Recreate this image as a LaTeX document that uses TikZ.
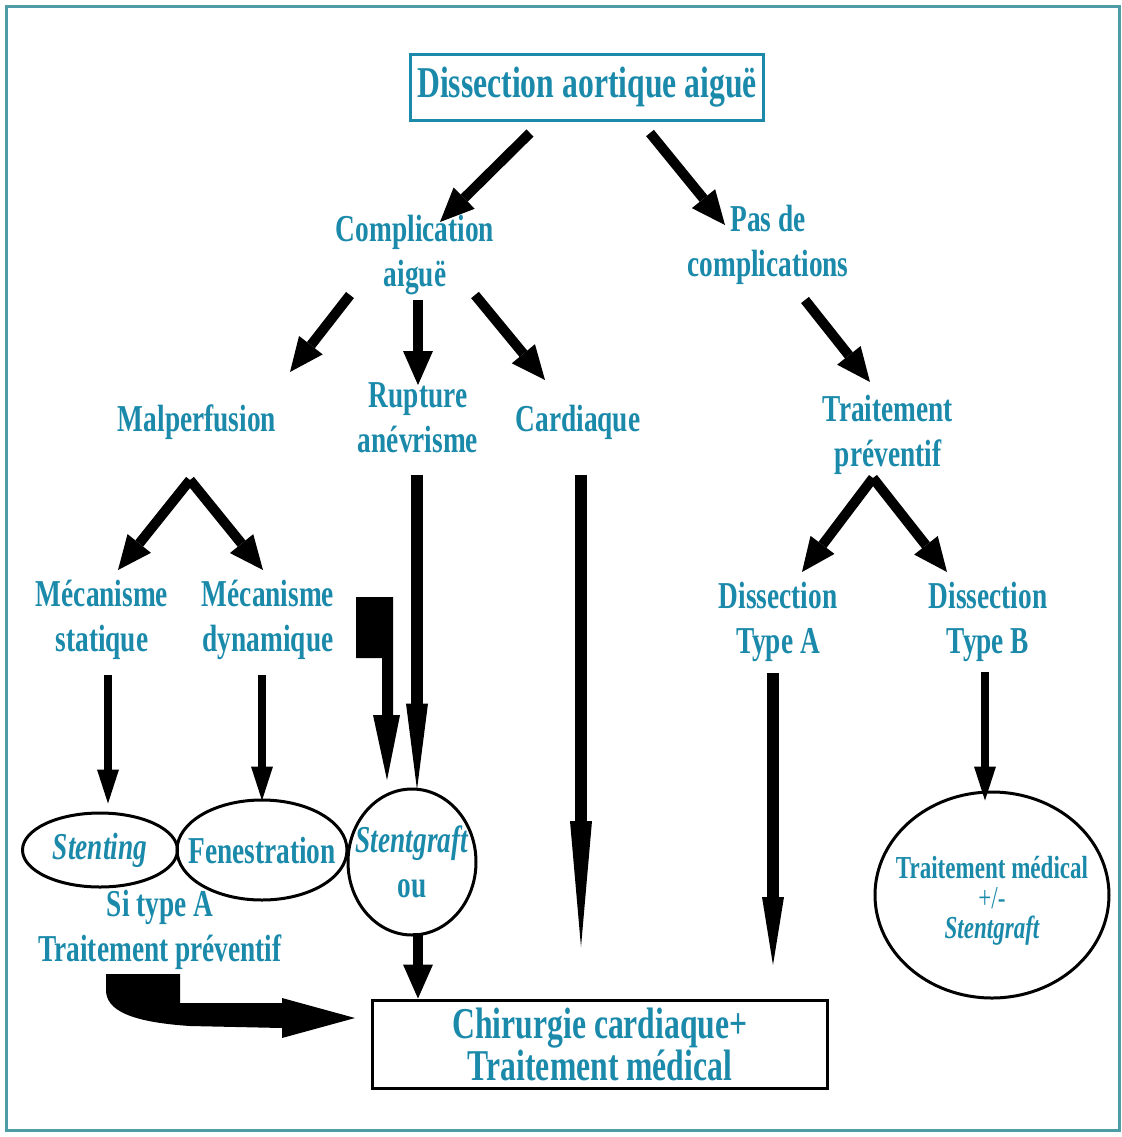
\documentclass[tikz,border=0pt]{standalone}
\usepackage{fontspec}
\setmainfont{Liberation Serif}[FakeStretch=0.72]
\usepackage{xcolor}
\definecolor{teal600}{HTML}{1B8AAA}
\definecolor{frame500}{HTML}{4E9CA6}
\usetikzlibrary{shapes.geometric, arrows.meta, calc}

\begin{document}
\begin{tikzpicture}[
    x=0.5pt, y=-0.5pt,
    font=\fontsize{19}{22.5}\selectfont\bfseries,
    text=teal600,
    lbl/.style={align=center, inner sep=0pt},
    oval/.style={draw=black, ellipse, line width=1.5pt, inner sep=0pt},
    fat/.style={line width=5pt, -{Triangle[length=17pt, width=15pt, line width=0pt]}},
    slim/.style={line width=4pt, -{Triangle[length=17pt, width=11pt, line width=0pt]}},
    spike/.style={line width=6pt, -{Triangle[length=#1, width=11pt, line width=0pt]}}
]
\useasboundingbox (0,0) rectangle (1122,1137);

% ── Frame ──
\draw[frame500, line width=1.5pt] (6,6) rectangle (1119,1130);

% ── Top ──
\node[draw=teal600, line width=1.5pt, minimum width=175pt, minimum height=33pt,
      font=\fontsize{22}{24}\selectfont\bfseries] (title) at (587,87) {Dissection aortique aiguë};

\node[lbl] (compl)   at (415,255) {Complication\\aiguë};
\node[lbl] (nocompl) at (768,245) {Pas de\\complications};

% ── Second row ──
\node[lbl] (malperf) at (197,422) {Malperfusion};
\node[lbl] (rupture) at (418,418) {Rupture\\anévrisme};
\node[lbl] (cardiaq) at (578,422) {Cardiaque};
\node[lbl] (trtprev) at (888,435) {Traitement\\préventif};

% ── Third row ──
\node[lbl] (mecstat) at (102,620) {Mécanisme\\statique};
\node[lbl] (mecdyn)  at (268,620) {Mécanisme\\dynamique};
\node[lbl] (dissA)   at (778,622) {Dissection\\Type A};
\node[lbl] (dissB)   at (988,622) {Dissection\\Type B};

% ── Treatments ──
\node[oval, minimum width=77.5pt, minimum height=37pt,
      label={center:{\itshape Stenting}}] (stenting) at (100,850) {};
\node[oval, minimum width=85pt, minimum height=50pt,
      label={center:Fenestration}] (fenest) at (262,850) {};
\node[oval, minimum width=64pt, minimum height=73pt,
      label={[align=center]center:{{\itshape Stentgraft}\\ou}}] (stgraft) at (412,862) {};
\node[lbl] (sitype) at (160,930) {Si type A\\Traitement préventif};

\node[oval, minimum width=117pt, minimum height=103pt,
      label={[align=center, yshift=-3pt, font=\fontsize{16}{15}\selectfont\bfseries]center:{Traitement médical\\{\mdseries +/-}\\{\itshape Stentgraft}}}] (medtt) at (992,895) {};

\node[draw=black, line width=1.5pt, minimum width=227.5pt, minimum height=44pt, align=center,
      font=\fontsize{22}{21}\selectfont\bfseries] (chir) at (600,1044) {Chirurgie cardiaque+\\Traitement médical};

% ── Diagonal arrows ──
\draw[fat] ($(title)+(-57,46)$) -- ($(compl)+(25,-33)$);
\draw[fat] ($(title)+(63,46)$) -- ($(nocompl)+(-43,-20)$);
\draw[fat] ($(compl)+(-65,40)$) -- ($(malperf)+(93,-50)$);
\draw[fat] ($(compl)+(3,45)$) -- ($(rupture)+(0,-33)$);
\draw[fat] ($(compl)+(60,40)$) -- ($(cardiaq)+(-33,-42)$);
\draw[fat] ($(nocompl)+(37,55)$) -- ($(trtprev)+(-18,-53)$);
\draw[fat] ($(malperf)+(-7,58)$) -- ($(mecstat)+(16,-50)$);
\draw[fat] ($(malperf)+(-7,58)$) -- ($(mecdyn)+(-5,-50)$);
\draw[fat] ($(trtprev)+(-15,43)$) -- ($(dissA)+(24,-50)$);
\draw[fat] ($(trtprev)+(-15,43)$) -- ($(dissB)+(-41,-50)$);

% ── Vertical arrows ──
\draw[spike=43pt] ($(rupture)+(-1,57)$) -- ($(stgraft.north)+(5,2)$);
\draw[spike=63pt] ($(cardiaq)+(3,53)$) -- ($(chir)+(-19,-97)$);
\draw[spike=34pt] ($(dissA)+(-5,51)$) -- ($(chir)+(173,-79)$);
\draw[slim] ($(dissB)+(-3,50)$) -- ($(medtt.north)+(-7,10)$);
\draw[slim] ($(mecstat)+(6,55)$) -- ($(stenting.north)+(8,-8)$);
\draw[slim] ($(mecdyn)+(-6,55)$) -- ($(fenest.north)+(0,2)$);
\draw[fat] ($(stgraft.south)+(6,-4)$) -- ($(chir.north)+(-182,0)$);

% ── Block arrows ──
\fill[black] (356,597) -- (393,597) -- (393,715) -- (400,715) -- (387,780)
     -- (373,715) -- (382,715) -- (382,658) -- (356,658) -- cycle;
\fill[black] (106,974) -- (180,974) -- (180,1003) -- (282,1003) -- (282,998)
     -- (355,1018) -- (282,1038) -- (282,1028) -- (190,1026)
     .. controls (130,1022) and (106,1010) .. (106,990) -- cycle;

\end{tikzpicture}
\end{document}
